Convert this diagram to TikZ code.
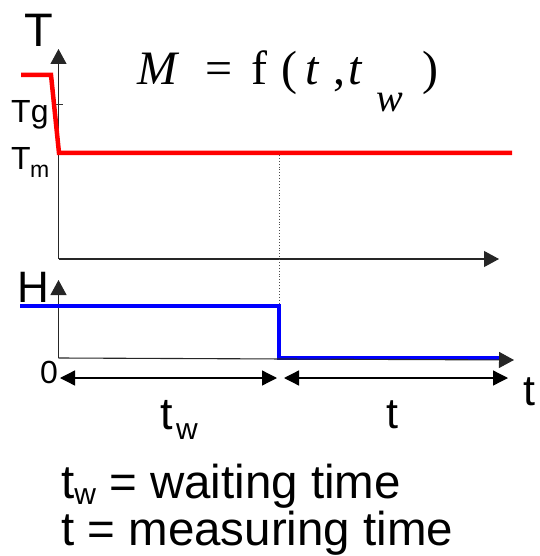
\documentclass[tikz,border=0pt]{standalone}
\usepackage{fontspec}
\setmainfont{Liberation Sans}
\newfontfamily\serifeq{Liberation Serif}
\usetikzlibrary{arrows.meta}
\tikzset{
  axis/.style={line width=1.1bp, black!85, -{Triangle[length=15bp,width=16bp]}},
  dbl/.style={line width=1.3bp, black, {Triangle[length=15bp,width=15bp]}-{Triangle[length=15bp,width=15bp]}},
  redline/.style={line width=4.5bp, red, line join=miter},
  blueline/.style={line width=4.5bp, blue},
  lbl/.style={inner sep=0pt, anchor=base west},
  eq/.style={inner sep=0pt, anchor=base west, font=\serifeq\fontsize{48bp}{50bp}\selectfont},
}
\begin{document}
\begin{tikzpicture}[x=1bp,y=-1bp]
\useasboundingbox (0,0) rectangle (540,556);
% coordinates
\coordinate (O1) at (58.5,259);
\coordinate (Ttop) at (58.5,49);
\coordinate (X1) at (499,259);
\coordinate (O2) at (58.5,358);
\coordinate (Htop) at (58.5,280);
\coordinate (X2) at (514,360);
% axes
\draw[axis] (O1) -- (Ttop);
\draw[axis] (O1) -- (X1);
\draw[axis] (O2) -- (Htop);
% tick Tg
\coordinate (tgA) at (55,104);
\coordinate (tgB) at (63,104);
\draw[line width=0.8bp, black!80] (tgA) -- (tgB);
% red curve
\coordinate (r0) at (21,75);
\coordinate (r1) at (51,75);
\coordinate (r2) at (59,153);
\coordinate (r3) at (512,153);
\draw[redline] (r0) -- (r1) -- (r2) -- (r3);
% dotted line
\coordinate (d0) at (279,155);
\coordinate (d1) at (279,304);
\draw[dotted, line width=0.9bp, black!70] (d0) -- (d1);
% blue curve
\coordinate (b0) at (20,306);
\coordinate (b1) at (279,306);
\coordinate (b2) at (279,358);
\coordinate (b3) at (500,358);
\draw[blueline] (b0) -- (b1) -- (b2) -- (b3);
\draw[axis] (O2) -- (X2);
% double arrows
\coordinate (a0) at (60,378);
\coordinate (a1) at (277,378);
\coordinate (a2) at (284,378);
\coordinate (a3) at (508,378);
\draw[dbl] (a0) -- (a1);
\draw[dbl] (a2) -- (a3);
% labels
\node[lbl, font=\fontsize{47bp}{50bp}\selectfont] (lT) at (24,47) {T};
\node[lbl, font=\fontsize{32bp}{34bp}\selectfont] (lTg) at (11,123) {Tg};
\node[lbl, font=\fontsize{32bp}{34bp}\selectfont] (lTm) at (11,170) {T};
\node[lbl, font=\fontsize{23bp}{24bp}\selectfont] (lTms) at (30,178) {m};
\node[lbl, font=\fontsize{44bp}{46bp}\selectfont] (lH) at (17,302) {H};
\node[lbl, font=\fontsize{32bp}{34bp}\selectfont] (l0) at (40,383) {0};
\node[lbl, font=\fontsize{43bp}{45bp}\selectfont] (lt) at (523,405) {t};
\node[lbl, font=\fontsize{45bp}{47bp}\selectfont] (ltw) at (160,429) {t};
\node[lbl, font=\fontsize{30bp}{32bp}\selectfont] (ltws) at (176,439) {w};
\node[lbl, font=\fontsize{43bp}{45bp}\selectfont] (lt2) at (386,428) {t};
% equation
\node[eq] (eM) at (137,85) {\itshape M};
\node[eq] (eEq) at (205,85) {=};
\node[eq] (eF) at (251,85) {f};
\node[eq] (eP1) at (281,85) {(};
\node[eq] (eT1) at (305,85) {\itshape t};
\node[eq] (eC) at (333,85) {,};
\node[eq] (eT2) at (348,85) {\itshape t};
\node[eq, font=\serifeq\fontsize{40bp}{42bp}\selectfont] (eW) at (376,112) {\itshape w};
\node[eq] (eP2) at (422,85) {)};
% bottom text
\node[lbl, font=\fontsize{47.5bp}{49bp}\selectfont] (line1) at (61,498) {t\raisebox{-6bp}{\fontsize{30bp}{31bp}\selectfont w} = waiting time};
\node[lbl, font=\fontsize{47.5bp}{49bp}\selectfont] (line2) at (61,545) {t = measuring time};
\end{tikzpicture}
\end{document}
